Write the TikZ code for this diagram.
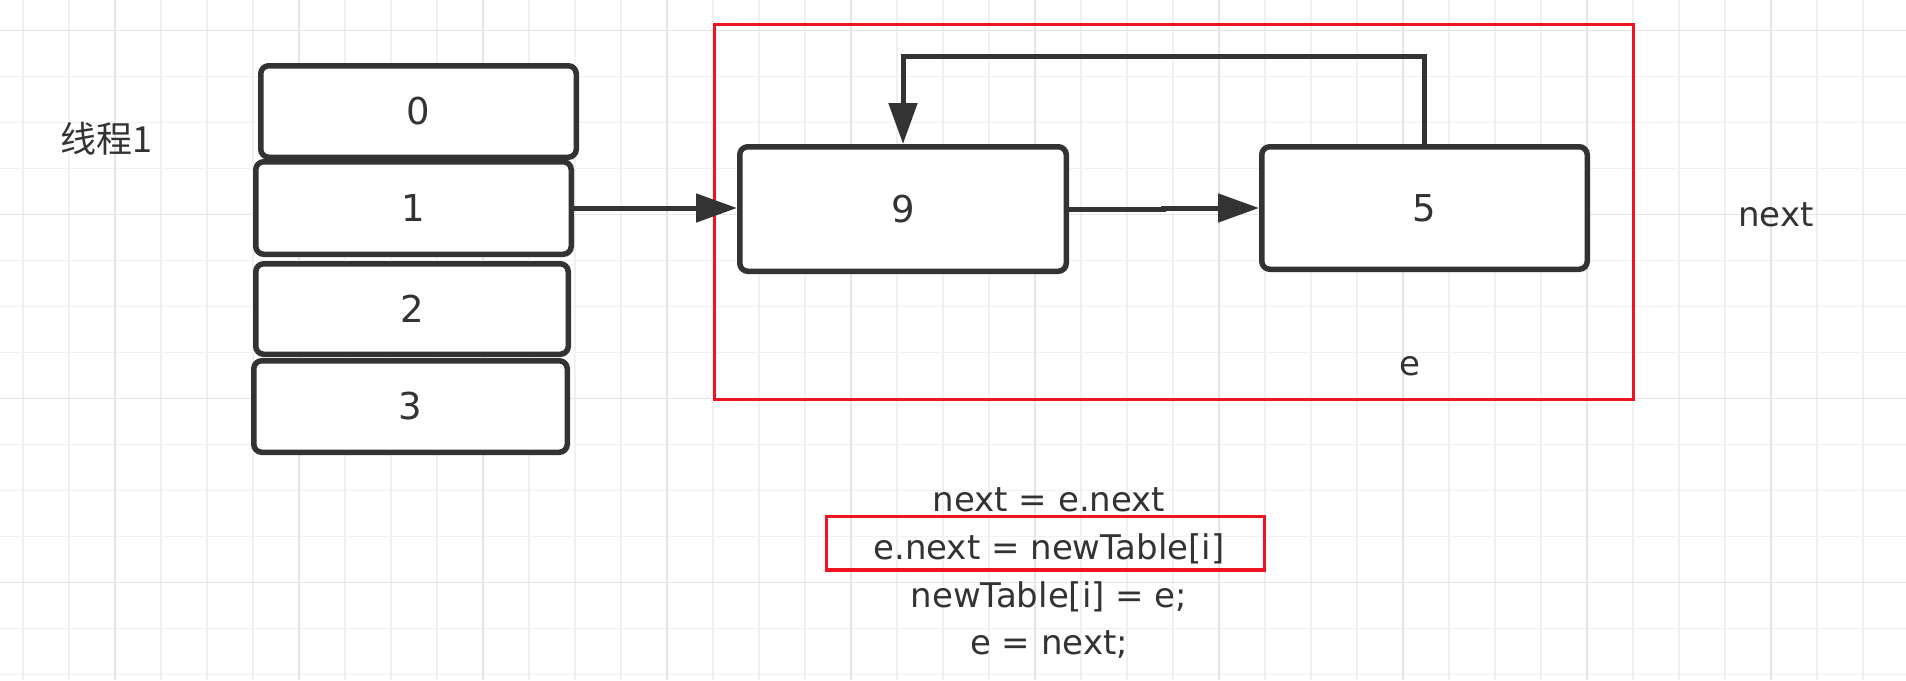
\documentclass[tikz,border=0pt]{standalone}
\usepackage{fontspec}
\setmainfont{DejaVu Sans}
\newfontfamily\cjk{Noto Sans CJK SC}
\usetikzlibrary{arrows.meta}
\definecolor{ink}{HTML}{333333}
\definecolor{redl}{HTML}{EE1420}
\definecolor{gridminor}{HTML}{F1F1F1}
\definecolor{gridmajor}{HTML}{E5E5E5}
\begin{document}
\begin{tikzpicture}[x=1pt,y=-1pt,
  box/.style={draw=ink, line width=5.5pt, rounded corners=8pt, fill=white, inner sep=0pt, text=ink, font=\fontsize{37}{44}\selectfont},
  arr/.style={draw=ink, line width=5pt, -{Triangle[length=41pt,width=28pt]}},
  lbl/.style={text=ink, inner sep=0pt, font=\fontsize{34}{40}\selectfont},
  redframe/.style={draw=redl, line width=3.8pt},
  gminor/.style={draw=gridminor, line width=1.3pt},
  gmajor/.style={draw=gridmajor, line width=1.3pt}]
\fill[white] (0,0) rectangle (1906,680);
\useasboundingbox (0,0) rectangle (1906,680);
% grid
\foreach \i in {0,...,40} \draw[gminor] ({23+46*\i},0) -- ({23+46*\i},680);
\foreach \j in {0,...,14} \draw[gminor] (0,{30.3+46*\j}) -- (1906,{30.3+46*\j});
\foreach \i in {0,...,9} \draw[gmajor] ({115+184*\i},0) -- ({115+184*\i},680);
\foreach \j in {0,...,3} \draw[gmajor] (0,{30.3+184*\j}) -- (1906,{30.3+184*\j});
% frames
\draw[redframe] (714.5,24.5) rectangle (1633.5,399.5);
\draw[redframe] (826.5,516.5) rectangle (1264.5,570);
% table
\node[box, minimum width=315.5pt, minimum height=91.5pt] (b0) at (418.5,111.5) {0};
\node[box, minimum width=315.5pt, minimum height=92.5pt] (b1) at (413.5,208) {1};
\node[box, minimum width=312.5pt, minimum height=90.5pt] (b2) at (412,309) {2};
\node[box, minimum width=313.5pt, minimum height=91.5pt] (b3) at (410.5,406.5) {3};
% list
\node[box, minimum width=326.5pt, minimum height=124.5pt] (b9) at (903,209) {9};
\node[box, minimum width=325.5pt, minimum height=122.5pt] (b5) at (1424.5,208) {5};
% labels
\node[lbl, anchor=base, font=\cjk\fontsize{36}{40}\selectfont] (th) at (106,152) {线程1};
\node[lbl, anchor=base] (nx) at (1776,226) {next};
\node[lbl, anchor=base] (ee) at (1410,375) {e};
\node[lbl, anchor=base] (t1) at (1049,511) {next = e.next};
\node[lbl, anchor=base] (t2) at (1049,559) {e.next = newTable[i]};
\node[lbl, anchor=base] (t3) at (1049,607.5) {newTable[i] = e;};
\node[lbl, anchor=base] (t4) at (1049,654) {e = next;};
% connectors
\coordinate (top) at (0,56);
\coordinate (jog) at (1163,0);
\draw[arr] (b1.east) -- (b1.east -| b9.west);
\draw[arr] (b9.east) -- (b9.east -| jog) |- (b5.west);
\draw[arr] (b5.north) -- (b5.north |- top) -| (b9.north);
\end{tikzpicture}
\end{document}
